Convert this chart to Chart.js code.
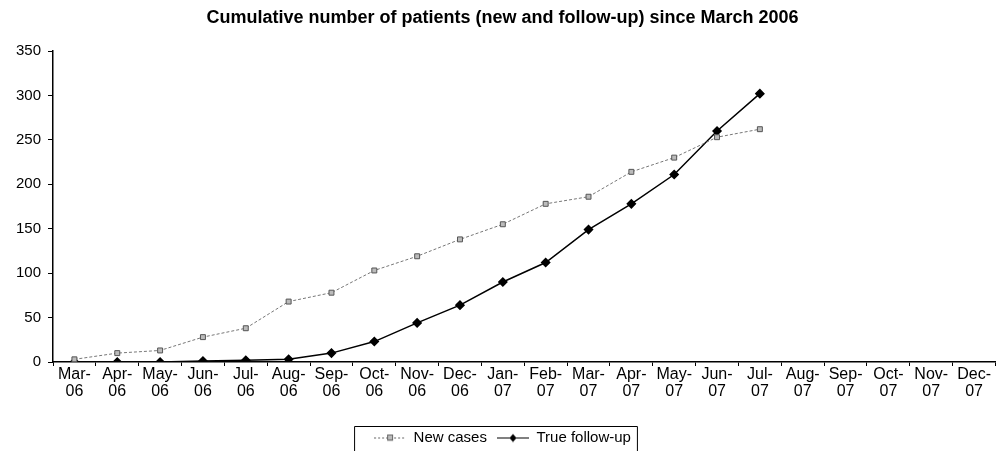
<!DOCTYPE html>
<html>
<head>
<meta charset="utf-8">
<script src="https://cdn.jsdelivr.net/npm/chart.js@4.4.0/dist/chart.umd.min.js"></script>
<style>
  html, body { margin: 0; padding: 0; background: #fff; overflow: hidden; }
  #wrap { width: 1001px; height: 451px; }
</style>
</head>
<body>
<div id="wrap"><canvas id="lineChart" width="1001" height="451"></canvas></div>
<script>
const months = [
  ['Mar-', '06'], ['Apr-', '06'], ['May-', '06'], ['Jun-', '06'], ['Jul-', '06'],
  ['Aug-', '06'], ['Sep-', '06'], ['Oct-', '06'], ['Nov-', '06'], ['Dec-', '06'],
  ['Jan-', '07'], ['Feb-', '07'], ['Mar-', '07'], ['Apr-', '07'], ['May-', '07'],
  ['Jun-', '07'], ['Jul-', '07'], ['Aug-', '07'], ['Sep-', '07'], ['Oct-', '07'],
  ['Nov-', '07'], ['Dec-', '07']
];
const newCases = [3, 10, 13, 28, 38, 68, 78, 103, 119, 138, 155, 178, 186, 214, 230, 253, 262,
  null, null, null, null, null];
const trueFollowUp = [0, 0, 0, 1, 2, 3, 10, 23, 44, 64, 90, 112, 149, 178, 211, 260, 302,
  null, null, null, null, null];
const yTicks = [0, 50, 100, 150, 200, 250, 300, 350];

const FONT = 'Arial, "Liberation Sans", sans-serif';

// little legend swatches: line + marker
function swatch(color, dash, marker) {
  const c = document.createElement('canvas');
  c.width = 32; c.height = 10;
  const g = c.getContext('2d');
  g.strokeStyle = color;
  g.lineWidth = 1;
  g.setLineDash(dash);
  g.beginPath(); g.moveTo(0, 5.5); g.lineTo(32, 5.5); g.stroke();
  g.setLineDash([]);
  if (marker === 'rect') {
    g.fillStyle = '#bbb'; g.strokeStyle = '#666';
    g.fillRect(13, 2.5, 6, 6); g.strokeRect(13.5, 2.5, 5, 5);
  } else {
    g.fillStyle = '#000';
    g.beginPath(); g.moveTo(16, 1.5); g.lineTo(19.5, 5.5); g.lineTo(16, 9.5); g.lineTo(12.5, 5.5); g.closePath(); g.fill();
  }
  return c;
}

const legendFrame = {
  id: 'legendFrame',
  afterDraw(chart) {
    const boxes = chart.legend.legendHitBoxes;
    if (!boxes || !boxes.length) return;
    const left = Math.min(...boxes.map(b => b.left)) - 20;
    const right = Math.max(...boxes.map(b => b.left + b.width)) + 6;
    const top = Math.min(...boxes.map(b => b.top)) - 4;
    const ctx = chart.ctx;
    ctx.save();
    ctx.strokeStyle = '#000';
    ctx.lineWidth = 1;
    ctx.beginPath();
    ctx.moveTo(left + 0.5, 460);
    ctx.lineTo(left + 0.5, top + 0.5);
    ctx.lineTo(right + 0.5, top + 0.5);
    ctx.lineTo(right + 0.5, 460);
    ctx.stroke();
    ctx.restore();
  }
};

new Chart(document.getElementById('lineChart').getContext('2d'), {
  type: 'line',
  data: {
    labels: months,
    datasets: [
      {
        label: 'New cases',
        data: newCases,
        borderColor: '#777',
        borderWidth: 1,
        borderDash: [3, 2],
        pointStyle: 'rect',
        pointRadius: 3.5,
        pointBackgroundColor: '#bbb',
        pointBorderColor: '#555',
        pointBorderWidth: 1,
        tension: 0,
        spanGaps: false
      },
      {
        label: 'True follow-up',
        data: trueFollowUp,
        borderColor: '#000',
        borderWidth: 1.5,
        pointStyle: 'rectRot',
        pointRadius: 4,
        pointBackgroundColor: '#000',
        pointBorderColor: '#000',
        tension: 0,
        spanGaps: false
      }
    ]
  },
  options: {
    responsive: false,
    animation: false,
    layout: { padding: { left: 4, right: 0, top: 4, bottom: -4 } },
    plugins: {
      title: {
        display: true,
        text: 'Cumulative number of patients (new and follow-up) since March 2006',
        color: '#000',
        font: { family: FONT, size: 18, weight: 'bold' },
        padding: { top: 3, bottom: 22.4 }
      },
      legend: {
        position: 'bottom',
        labels: {
          color: '#000',
          font: { family: FONT, size: 15 },
          usePointStyle: true,
          pointStyleWidth: 32,
          padding: 10,
          generateLabels(chart) {
            return [
              { text: 'New cases', pointStyle: swatch('#666', [2, 2], 'rect'), fontColor: '#000', datasetIndex: 0, lineWidth: 0, strokeStyle: 'transparent', fillStyle: 'transparent' },
              { text: 'True follow-up', pointStyle: swatch('#000', [], 'diamond'), fontColor: '#000', datasetIndex: 1, lineWidth: 0, strokeStyle: 'transparent', fillStyle: 'transparent' }
            ];
          }
        }
      },
      tooltip: { enabled: false }
    },
    scales: {
      x: {
        offset: true,
        afterFit(scale) { scale.height = 58; },
        grid: { display: true, drawOnChartArea: false, offset: true, tickLength: 4, color: '#000' },
        border: { display: true, color: '#000', width: 1.5 },
        ticks: {
          color: '#000',
          font: { family: FONT, size: 16, lineHeight: '17px' },
          maxRotation: 0,
          autoSkip: false,
          padding: 0
        }
      },
      y: {
        min: 0,
        max: 350,
        afterBuildTicks(scale) { scale.ticks = yTicks.map(v => ({ value: v })); },
        afterFit(scale) { scale.width = 49; },
        grid: { display: true, drawOnChartArea: false, tickLength: 5, color: '#000' },
        border: { display: true, color: '#000', width: 1.5 },
        ticks: {
          color: '#000',
          font: { family: FONT, size: 15 },
          padding: 7
        }
      }
    }
  },
  plugins: [legendFrame]
});
</script>
</body>
</html>
